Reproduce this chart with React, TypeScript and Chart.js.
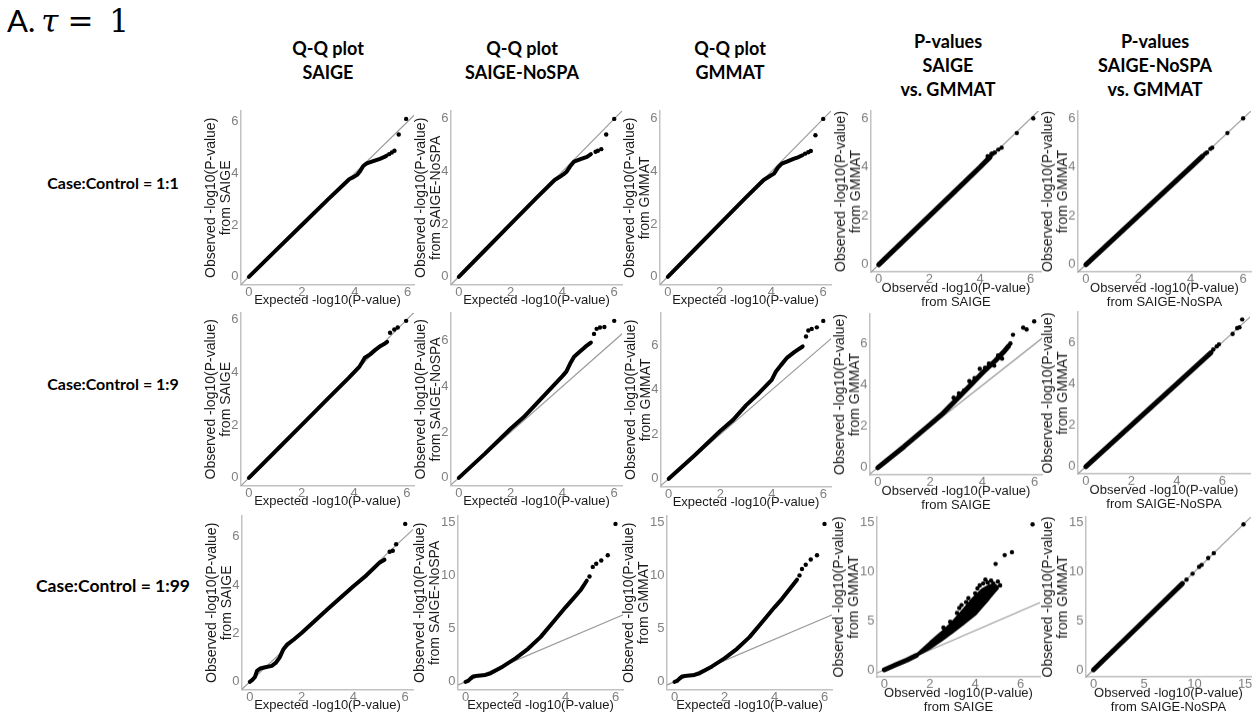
import React, { useEffect, useRef } from "react";
import { Chart, registerables } from "chart.js";
Chart.register(...registerables);

// ---------------- data ----------------
const figureTitleLetter = "A.";
const figureTitleSymbol = "τ";
const figureTitleRest = "= 1";
const rowLabels = ["Case:Control = 1:1", "Case:Control = 1:9", "Case:Control = 1:99"];
const colHeaders = [
  ["Q-Q plot", "SAIGE"],
  ["Q-Q plot", "SAIGE-NoSPA"],
  ["Q-Q plot", "GMMAT"],
  ["P-values", "SAIGE", "vs. GMMAT"],
  ["P-values", "SAIGE-NoSPA", "vs. GMMAT"],
];
const xTitles = [
  ["Expected -log10(P-value)"],
  ["Expected -log10(P-value)"],
  ["Expected -log10(P-value)"],
  ["Observed -log10(P-value)", "from SAIGE"],
  ["Observed -log10(P-value)", "from SAIGE-NoSPA"],
];
const yTitles = [
  ["Observed -log10(P-value)", "from SAIGE"],
  ["Observed -log10(P-value)", "from SAIGE-NoSPA"],
  ["Observed -log10(P-value)", "from GMMAT"],
  ["Observed -log10(P-value)", "from GMMAT"],
  ["Observed -log10(P-value)", "from GMMAT"],
];
const smallTicks = [0, 2, 4, 6];
const largeTicks = [0, 5, 10, 15];
const diagonal = [-1, 16];

// Row 1 (1:1)
const r1c1Curve = [[0,0],[1,1],[2,2],[3,3],[3.8,3.78],[3.95,3.85],[4.1,3.95],[4.2,4.08],[4.32,4.28],[4.45,4.38],[4.7,4.47],[4.95,4.56],[5.1,4.62],[5.2,4.68]];
const r1c1Tail = [[5.3,4.74],[5.4,4.8],[5.5,4.87],[5.66,5.5],[5.94,6.1]];
const r1c2Curve = [[0,0],[1,1],[2,2],[3,3],[3.7,3.68],[3.9,3.8],[4.05,3.9],[4.15,3.98],[4.3,4.2],[4.45,4.38],[4.7,4.47],[4.95,4.56],[5.1,4.66]];
const r1c2Tail = [[5.28,4.75],[5.37,4.79],[5.5,4.85],[5.69,5.41],[6.0,6.0]];
const r1c3Curve = [[0,0],[1,1],[2,2],[3,3],[3.7,3.68],[3.9,3.8],[4.1,3.92],[4.25,4.15],[4.4,4.3],[4.6,4.38],[4.85,4.48],[5.05,4.55],[5.2,4.62]];
const r1c3Tail = [[5.3,4.68],[5.42,4.73],[5.52,4.78],[5.7,5.38],[6.0,6.0]];
const r1c4Curve = [[0,0],[1,1],[2,2],[3,3],[4,4],[4.4,4.42]];
const r1c4Tail = [[4.3,4.45],[4.45,4.55],[4.5,4.55],[4.58,4.6],[4.72,4.72],[4.85,4.8],[5.45,5.4],[6.1,6.0]];
const r1c5Curve = [[0,0],[2,2],[4,4],[4.45,4.45]];
const r1c5Tail = [[4.55,4.55],[4.62,4.6],[4.75,4.75],[4.82,4.8],[5.4,5.4],[6.0,6.0]];

// Row 2 (1:9)
const r2c1Curve = [[0,0],[1,1],[2,2],[3,3],[3.8,3.8],[4.2,4.22],[4.3,4.38],[4.4,4.55],[4.6,4.68],[4.8,4.85],[5.0,5.0],[5.15,5.08],[5.25,5.15]];
const r2c1Tail = [[5.36,5.5],[5.52,5.62],[5.65,5.7],[5.97,5.95]];
const r2c2Curve = [[0,0],[1,1.05],[2,2.15],[2.5,2.65],[3,3.25],[3.5,3.85],[4.0,4.45],[4.15,4.65],[4.3,5.0],[4.45,5.3],[4.7,5.55],[4.9,5.75],[5.1,5.92]];
const r2c2Tail = [[5.22,6.3],[5.32,6.52],[5.45,6.58],[5.62,6.6],[6.0,6.87]];
const r2c3Curve = [[0,0],[1,1.05],[2,2.15],[2.5,2.65],[3,3.3],[3.5,3.85],[4.0,4.45],[4.15,4.8],[4.35,5.1],[4.6,5.45],[4.9,5.72],[5.2,5.95]];
const r2c3Tail = [[5.33,6.4],[5.42,6.67],[5.55,6.74],[5.75,6.81],[6.0,7.1]];
const r2c4Curve = [[0,0],[1,1.02],[2,2.1],[2.5,2.65],[3,3.3],[3.5,3.95],[4,4.6],[4.5,5.2],[4.8,5.6],[5.0,5.9]];
const r2c4Tail = [[2.9,3.4],[3.1,3.6],[3.3,3.75],[3.5,4.2],[3.7,4.35],[3.9,4.8],[4.1,4.85],[4.25,5.05],[4.45,4.95],[4.6,5.45],[4.75,5.3],[5.07,6.03],[5.17,6.45],[5.56,6.8],[5.69,6.71],[5.98,7.1]];
const r2c5Curve = [[0,0],[2,2],[4,4],[5.5,5.5]];
const r2c5Tail = [[5.6,5.65],[5.75,5.8],[5.85,5.9],[6.45,6.4],[6.65,6.68],[6.75,6.72],[6.87,7.1]];

// Row 3 (1:99)
const r3c1Curve = [[0,0],[0.1,0.08],[0.2,0.2],[0.28,0.45],[0.4,0.55],[0.6,0.6],[0.85,0.66],[1.0,0.78],[1.15,1.0],[1.3,1.35],[1.45,1.55],[1.7,1.75],[2,2.02],[3,3.0],[4,3.95],[4.5,4.4],[5,4.92],[5.2,5.05]];
const r3c1Tail = [[5.4,5.38],[5.52,5.42],[5.65,5.69],[6.0,6.53]];
const r3c2Curve = [[0,0],[0.1,0.08],[0.2,0.3],[0.3,0.5],[0.5,0.58],[0.8,0.65],[1.0,0.8],[1.5,1.45],[2.0,2.2],[2.5,3.1],[3.0,4.2],[3.5,5.6],[4.0,7.0],[4.3,7.8],[4.6,8.6],[4.85,9.5]];
const r3c2Tail = [[4.96,9.9],[5.09,10.8],[5.23,11.1],[5.43,11.4],[5.69,11.9],[6.0,14.84]];
const r3c3Curve = [[0,0],[0.1,0.08],[0.2,0.3],[0.3,0.5],[0.5,0.58],[0.8,0.65],[1.0,0.8],[1.5,1.45],[2.0,2.2],[2.5,3.1],[3.0,4.2],[3.5,5.6],[4.0,7.0],[4.3,7.8],[4.6,8.7],[4.9,9.6]];
const r3c3Tail = [[5.0,10.0],[5.1,10.6],[5.25,11.0],[5.45,11.5],[5.7,11.9],[6.0,14.84]];
const r3c4Curve = [[0,0],[0.5,0.5],[1.0,1.0],[1.4,1.45]];
const r3c4Lower = [[1.4,1.38],[2.0,2.15],[2.5,2.95],[3.0,3.8],[3.5,4.7],[4.0,5.6],[4.3,6.4],[4.6,7.2],[4.85,7.9],[5.0,8.3]];
const r3c4Upper = [[1.4,1.52],[2.0,2.8],[2.5,3.8],[3.0,4.9],[3.5,6.2],[3.9,7.3],[4.3,8.2],[4.6,8.6],[4.85,8.7],[5.0,8.5]];
const r3c4Tail = [[2.6,4.3],[2.9,4.9],[3.2,5.8],[3.3,6.3],[3.4,6.6],[3.6,6.9],[3.7,7.3],[3.8,6.8],[4.0,7.8],[4.1,8.3],[4.2,8.6],[4.35,8.8],[4.45,9.2],[4.55,8.9],[4.7,9.1],[4.8,8.8],[4.9,10.8],[5.0,9.0],[5.1,8.6],[5.3,11.7],[5.62,12.0],[6.53,14.84]];
const r3c5Curve = [[0,0],[5,5],[8.8,8.8]];
const r3c5Tail = [[9.2,9.2],[9.8,9.8],[10.45,10.5],[10.7,10.7],[11.35,11.4],[11.9,11.9],[14.84,14.84]];

const panelSeries = [
  [
    { curve: r1c1Curve, tail: r1c1Tail },
    { curve: r1c2Curve, tail: r1c2Tail },
    { curve: r1c3Curve, tail: r1c3Tail },
    { curve: r1c4Curve, tail: r1c4Tail },
    { curve: r1c5Curve, tail: r1c5Tail },
  ],
  [
    { curve: r2c1Curve, tail: r2c1Tail },
    { curve: r2c2Curve, tail: r2c2Tail },
    { curve: r2c3Curve, tail: r2c3Tail },
    { curve: r2c4Curve, tail: r2c4Tail },
    { curve: r2c5Curve, tail: r2c5Tail },
  ],
  [
    { curve: r3c1Curve, tail: r3c1Tail },
    { curve: r3c2Curve, tail: r3c2Tail },
    { curve: r3c3Curve, tail: r3c3Tail },
    { curve: r3c4Curve, tail: r3c4Tail, lower: r3c4Lower, upper: r3c4Upper },
    { curve: r3c5Curve, tail: r3c5Tail },
  ],
];
const panelXTicks = [
  [smallTicks, smallTicks, smallTicks, smallTicks, smallTicks],
  [smallTicks, smallTicks, smallTicks, smallTicks, smallTicks],
  [smallTicks, smallTicks, smallTicks, smallTicks, largeTicks],
];
const panelYTicks = [
  [smallTicks, smallTicks, smallTicks, smallTicks, smallTicks],
  [smallTicks, smallTicks, smallTicks, smallTicks, smallTicks],
  [smallTicks, largeTicks, largeTicks, largeTicks, largeTicks],
];

// ---------------- layout (plot areas: left, top, right, bottom) ----------------
const plotBoxes = [
  [[241,108,414,285],[451,108,622,285],[660,108,831,285],[871,108,1041,272],[1078,108,1251,272]],
  [[241,310,414,486],[451,310,622,486],[661,310,831,487],[870,311,1042,475],[1078,309,1250,474]],
  [[242,513,413,690],[458,513,623,690],[667,513,832,690],[877,514,1040,677],[1086,514,1251,677]],
];
const headerCenters = [328, 522, 730, 948, 1155];
const rowCenters = [183, 384, 586];

const FONT = '"Liberation Sans", Arial, Helvetica, sans-serif';
const TICK_COLOR = "#808080";
const TITLE_COLOR = "#1a1a1a";
const AXIS_COLOR = "#c2c2c2";
const DIAG_COLOR = "#9c9c9c";
const LW = 48, TP = 6, RP = 8;
const XT_SIZE = 13, XT_LH = 1.12;
const YT_SIZE = 14, YT_LH = 1.1;
const TICK_SIZE = 13;

const toPts = (a: number[][]) => a.map(([x, y]) => ({ x, y }));

function Panel({ r, c }: { r: number; c: number }) {
  const ref = useRef<HTMLCanvasElement>(null);
  const s: any = panelSeries[r][c];
  const [l, t, rt, b] = plotBoxes[r][c];
  const xLines = xTitles[c];
  const bh = 16 + (XT_SIZE * XT_LH) / 2 + XT_SIZE * XT_LH * (xLines.length - 1);
  const W = LW + (rt - l) + RP;
  const H = TP + (b - t) + bh;
  useEffect(() => {
    const all = [...s.curve, ...s.tail, ...(s.lower || []), ...(s.upper || [])];
    const xMax = Math.max(...all.map((p: number[]) => p[0]));
    const yMax = Math.max(...all.map((p: number[]) => p[1]));
    const xt = panelXTicks[r][c];
    const yt = panelYTicks[r][c];
    const twoDigit = yt[yt.length - 1] >= 10;
    const datasets: any[] = [];
    datasets.push({
      data: toPts(s.tail), showLine: false, pointRadius: 2.2,
      pointBackgroundColor: "#000", pointBorderWidth: 0,
    });
    if (s.lower) {
      datasets.push({
        data: toPts([...s.lower, ...s.upper.slice().reverse()]), showLine: true,
        fill: "shape", backgroundColor: "#000", borderColor: "#000", borderWidth: 2,
        borderJoinStyle: "round", pointRadius: 0,
      });
    }
    datasets.push({
      data: toPts(s.curve), showLine: true, borderColor: "#000",
      borderWidth: c >= 3 ? 5 : 4, pointRadius: 0, borderCapStyle: "round",
      borderJoinStyle: "round", fill: false,
    });
    datasets.push({
      data: toPts(diagonal.map((v) => [v, v])), showLine: true, borderColor: DIAG_COLOR,
      borderWidth: 1.2, pointRadius: 0, fill: false,
    });
    const chart = new Chart(ref.current as HTMLCanvasElement, {
      type: "scatter",
      data: { datasets },
      options: {
        responsive: false, animation: false, devicePixelRatio: 1, events: [],
        layout: { padding: { top: TP, right: RP, left: 0, bottom: 0 }, autoPadding: false },
        plugins: { legend: { display: false }, tooltip: { enabled: false } },
        scales: {
          x: {
            type: "linear", min: -0.05 * xMax, max: 1.05 * xMax,
            grid: { display: false, drawTicks: false },
            border: { display: true, color: AXIS_COLOR, width: 1.5 },
            ticks: { color: TICK_COLOR, font: { family: FONT, size: TICK_SIZE, lineHeight: 1.0 }, padding: 1, maxRotation: 0 },
            afterBuildTicks: (sc: any) => { sc.ticks = xt.map((v) => ({ value: v })); },
            afterFit: (sc: any) => { sc.height = bh; },
            title: {
              display: true, text: xLines, color: TITLE_COLOR,
              font: { family: FONT, size: XT_SIZE, lineHeight: XT_LH }, padding: { top: 0, bottom: 0 },
            },
          },
          y: {
            type: "linear", min: -0.05 * yMax, max: 1.05 * yMax,
            grid: { display: false, drawTicks: false },
            border: { display: true, color: AXIS_COLOR, width: 1.5 },
            ticks: { color: TICK_COLOR, font: { family: FONT, size: TICK_SIZE, lineHeight: 1.0 }, padding: 2.5 },
            afterBuildTicks: (sc: any) => { sc.ticks = yt.map((v) => ({ value: v })); },
            afterFit: (sc: any) => { sc.width = LW; },
            title: {
              display: true, text: yTitles[c], color: TITLE_COLOR,
              font: { family: FONT, size: YT_SIZE, lineHeight: YT_LH },
              padding: { top: twoDigit ? 2.5 : 10, bottom: 0 },
            },
          },
        },
      } as any,
    });
    return () => chart.destroy();
  }, []);
  return (
    <canvas
      ref={ref}
      width={W}
      height={H}
      style={{ position: "absolute", left: l - LW, top: t - TP, width: W, height: H }}
    />
  );
}

const centered: React.CSSProperties = {
  position: "absolute", transform: "translate(-50%, -50%)", whiteSpace: "nowrap",
  fontFamily: "Lato, 'Open Sans', sans-serif", fontWeight: 700, color: "#000", lineHeight: 1,
};

export default function App() {
  return (
    <div style={{ position: "absolute", left: 0, top: 0, width: 1260, height: 719, background: "#fff", overflow: "hidden" }}>
      <div style={{ position: "absolute", left: 7, top: 5, fontSize: 31, lineHeight: 1, whiteSpace: "nowrap", color: "#000" }}>
        <span style={{ fontFamily: "Lato, sans-serif" }}>{figureTitleLetter}</span>
        <span style={{ fontFamily: "'DejaVu Serif', serif", fontStyle: "italic", marginLeft: 6 }}>{figureTitleSymbol}</span>
        <span style={{ fontFamily: "'DejaVu Serif', serif", marginLeft: 9, wordSpacing: 6 }}>{figureTitleRest}</span>
      </div>
      {colHeaders.map((lines, c) =>
        lines.map((txt, i) => (
          <div key={`h${c}-${i}`} style={{ ...centered, left: headerCenters[c], top: (lines.length === 2 ? 48 : 41) + i * 24, fontSize: 18 }}>
            {txt}
          </div>
        ))
      )}
      {rowLabels.map((txt, r) => (
        <div key={`r${r}`} style={{ ...centered, left: 113, top: rowCenters[r], fontSize: r === 2 ? 17.5 : 16 }}>
          {txt}
        </div>
      ))}
      {panelSeries.map((row, r) => row.map((_, c) => <Panel key={`p${r}-${c}`} r={r} c={c} />))}
    </div>
  );
}
